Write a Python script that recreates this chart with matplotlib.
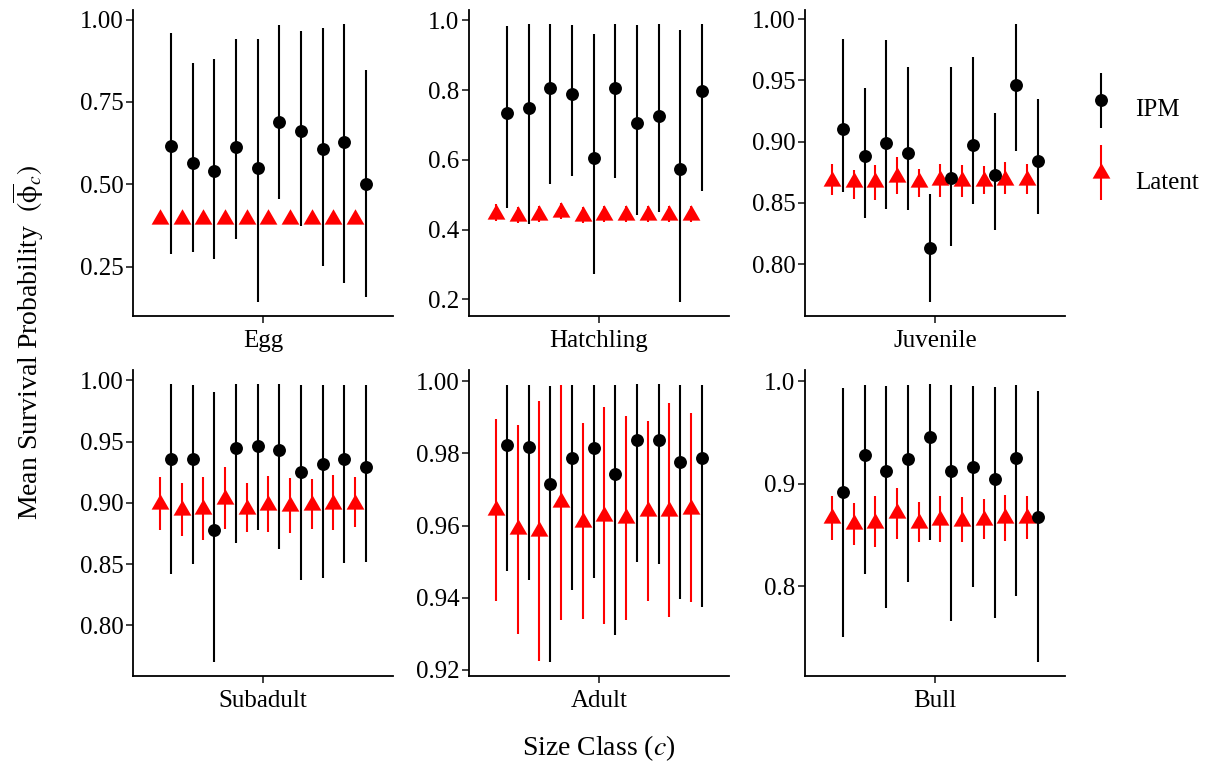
import numpy as np
import matplotlib
matplotlib.use("Agg")
import matplotlib.pyplot as plt
from matplotlib.path import Path
from matplotlib.legend_handler import HandlerErrorbar
from matplotlib.lines import Line2D
from matplotlib.container import ErrorbarContainer
from matplotlib.collections import LineCollection

plt.rcParams['font.family'] = ['Liberation Serif', 'DejaVu Serif']
plt.rcParams['mathtext.fontset'] = 'stix'

classes = ["Egg", "Hatchling", "Juvenile", "Subadult", "Adult", "Bull"]

ipm_mean = [
    [0.616, 0.563, 0.539, 0.613, 0.550, 0.688, 0.661, 0.608, 0.628, 0.501],
    [0.735, 0.750, 0.807, 0.788, 0.606, 0.806, 0.706, 0.725, 0.573, 0.798],
    [0.910, 0.888, 0.899, 0.891, 0.813, 0.870, 0.897, 0.873, 0.946, 0.884],
    [0.936, 0.936, 0.878, 0.945, 0.946, 0.943, 0.925, 0.932, 0.936, 0.929],
    [0.9823, 0.9819, 0.9716, 0.9788, 0.9815, 0.9742, 0.9836, 0.9836, 0.9777, 0.9788],
    [0.8917, 0.9284, 0.9125, 0.9238, 0.9455, 0.9122, 0.9167, 0.9044, 0.9248, 0.8671],
]
ipm_lo = [
    [0.289, 0.294, 0.272, 0.333, 0.142, 0.455, 0.372, 0.252, 0.201, 0.158],
    [0.461, 0.417, 0.530, 0.554, 0.274, 0.549, 0.442, 0.451, 0.192, 0.511],
    [0.859, 0.838, 0.845, 0.844, 0.769, 0.815, 0.849, 0.828, 0.892, 0.841],
    [0.842, 0.850, 0.770, 0.867, 0.878, 0.862, 0.837, 0.839, 0.851, 0.852],
    [0.9473, 0.9450, 0.9221, 0.9422, 0.9455, 0.9295, 0.9499, 0.9493, 0.9397, 0.9374],
    [0.7504, 0.8117, 0.7786, 0.8036, 0.8451, 0.7663, 0.7987, 0.7689, 0.7900, 0.7258],
]
ipm_hi = [
    [0.960, 0.869, 0.881, 0.941, 0.941, 0.984, 0.964, 0.975, 0.987, 0.848],
    [0.985, 0.989, 0.990, 0.988, 0.962, 0.989, 0.988, 0.989, 0.972, 0.989],
    [0.984, 0.944, 0.983, 0.961, 0.857, 0.961, 0.969, 0.923, 0.996, 0.935],
    [0.997, 0.996, 0.990, 0.997, 0.997, 0.997, 0.996, 0.996, 0.996, 0.996],
    [0.9991, 0.9991, 0.9987, 0.9991, 0.9991, 0.9989, 0.9993, 0.9993, 0.9989, 0.9989],
    [0.9935, 0.9968, 0.9955, 0.9961, 0.9974, 0.9961, 0.9955, 0.9948, 0.9968, 0.9909],
]
lat_mean = [
    [0.395, 0.395, 0.395, 0.395, 0.395, 0.395, 0.395, 0.395, 0.395, 0.395],
    [0.446, 0.438, 0.441, 0.451, 0.438, 0.443, 0.441, 0.441, 0.443, 0.443],
    [0.868, 0.867, 0.867, 0.871, 0.867, 0.869, 0.868, 0.868, 0.869, 0.869],
    [0.899, 0.894, 0.895, 0.903, 0.895, 0.898, 0.897, 0.898, 0.899, 0.899],
    [0.9643, 0.9589, 0.9585, 0.9665, 0.9609, 0.9627, 0.9621, 0.9639, 0.9641, 0.9647],
    [0.866, 0.861, 0.862, 0.871, 0.862, 0.865, 0.864, 0.865, 0.866, 0.866],
]
lat_lo = [
    [0.387, 0.387, 0.387, 0.387, 0.387, 0.387, 0.387, 0.387, 0.387, 0.387],
    [0.426, 0.418, 0.421, 0.431, 0.418, 0.423, 0.421, 0.421, 0.423, 0.423],
    [0.856, 0.853, 0.852, 0.857, 0.855, 0.855, 0.855, 0.857, 0.857, 0.857],
    [0.878, 0.873, 0.870, 0.879, 0.876, 0.876, 0.875, 0.879, 0.878, 0.880],
    [0.9391, 0.9300, 0.9224, 0.9339, 0.9341, 0.9327, 0.9339, 0.9391, 0.9346, 0.9389],
    [0.845, 0.840, 0.838, 0.846, 0.843, 0.843, 0.843, 0.846, 0.844, 0.846],
]
lat_hi = [
    [0.402, 0.402, 0.402, 0.402, 0.402, 0.402, 0.402, 0.402, 0.402, 0.402],
    [0.472, 0.464, 0.467, 0.477, 0.464, 0.469, 0.467, 0.467, 0.469, 0.469],
    [0.882, 0.877, 0.881, 0.887, 0.878, 0.882, 0.881, 0.880, 0.883, 0.882],
    [0.921, 0.916, 0.921, 0.929, 0.916, 0.922, 0.920, 0.919, 0.923, 0.921],
    [0.9897, 0.9878, 0.9946, 0.9989, 0.9884, 0.9929, 0.9905, 0.9889, 0.9939, 0.9912],
    [0.888, 0.881, 0.888, 0.896, 0.882, 0.888, 0.887, 0.885, 0.889, 0.888],
]
yticks = [
    [0.25, 0.50, 0.75, 1.00],
    [0.2, 0.4, 0.6, 0.8, 1.0],
    [0.80, 0.85, 0.90, 0.95, 1.00],
    [0.80, 0.85, 0.90, 0.95, 1.00],
    [0.92, 0.94, 0.96, 0.98, 1.00],
    [0.8, 0.9, 1.0],
]
ytick_fmt = ["%.2f", "%.1f", "%.2f", "%.2f", "%.2f", "%.1f"]

# R-style triangle (centroid at the point)
tri = Path([(0, 1), (-0.866, -0.5), (0.866, -0.5), (0, 1)],
           [Path.MOVETO, Path.LINETO, Path.LINETO, Path.CLOSEPOLY])

W, H = 1215, 769
fig = plt.figure(figsize=(W / 100, H / 100), dpi=100)

lefts = [133, 469, 805]
tops = [10, 370]
pw, ph = 260, 306

n = 10
ngroups = 2 * n
offs = -0.5 + (np.arange(ngroups) + 0.5) / ngroups

CIRC_MS = 9.3
TRI_MS = 14.8

for i, cls in enumerate(classes):
    r, c = divmod(i, 3)
    ax = fig.add_axes([lefts[c] / W, 1 - (tops[r] + ph) / H, pw / W, ph / H])
    xl = 1 + offs[0::2]
    xi = 1 + offs[1::2]
    lm = np.array(lat_mean[i]); ll = np.array(lat_lo[i]); lh = np.array(lat_hi[i])
    im = np.array(ipm_mean[i]); il = np.array(ipm_lo[i]); ih = np.array(ipm_hi[i])
    ax.errorbar(xl, lm, yerr=[lm - ll, lh - lm], fmt='none', ecolor='#ff0000',
                elinewidth=1.5, capsize=0, zorder=2)
    ax.plot(xl, lm, linestyle='none', marker=tri, markersize=TRI_MS, color='#ff0000',
            markeredgewidth=0, zorder=3)
    ax.errorbar(xi, im, yerr=[im - il, ih - im], fmt='none', ecolor='black',
                elinewidth=1.5, capsize=0, zorder=2)
    ax.plot(xi, im, linestyle='none', marker='o', markersize=CIRC_MS, color='black',
            markeredgewidth=0, zorder=3)
    lo = min(ll.min(), il.min()); hi = max(lh.max(), ih.max())
    pad = 0.05 * (hi - lo)
    ax.set_ylim(lo - pad, hi + pad)
    ax.set_xlim(0.4, 1.6)
    ax.set_xticks([1])
    ax.set_xticklabels([cls], fontsize=18)
    ax.set_yticks(yticks[i])
    ax.set_yticklabels([ytick_fmt[i] % v for v in yticks[i]], fontsize=18)
    for s in ['top', 'right']:
        ax.spines[s].set_visible(False)
    for s in ['left', 'bottom']:
        ax.spines[s].set_linewidth(1.3)
    ax.tick_params(axis='both', length=5, width=1.3, color='#333333')
    ax.tick_params(axis='x', pad=5)
    ax.tick_params(axis='y', pad=2)


def make_handle(color, marker, ms):
    ln = Line2D([0], [0], linestyle='none', marker=marker, markersize=ms,
                color=color, markeredgewidth=0)
    lc = LineCollection([[(0, 0), (0, 1)]], colors=color, linewidths=1.5)
    return ErrorbarContainer((ln, (), (lc,)), has_xerr=False, has_yerr=True)


h_ipm = make_handle('black', 'o', CIRC_MS)
h_lat = make_handle('#ff0000', tri, TRI_MS)
fig.legend([h_ipm, h_lat], ['IPM', 'Latent'], loc='center left',
           bbox_to_anchor=(1066 / W, 1 - 145 / H), frameon=False, fontsize=18,
           handlelength=1.0, handleheight=2.7, labelspacing=0.9, handletextpad=0.85,
           handler_map={ErrorbarContainer: HandlerErrorbar(yerr_size=1.1)})

fig.text(599 / W, 1 - 748 / H, r'Size Class ($c$)', ha='center', va='center', fontsize=20)
fig.text(28 / W, 1 - 343 / H, r'Mean Survival Probability  $(\overline{\mathrm{\phi}}_{c})$',
         rotation=90, ha='center', va='center', fontsize=20)

fig.savefig('out.png', dpi=100, facecolor='white')
